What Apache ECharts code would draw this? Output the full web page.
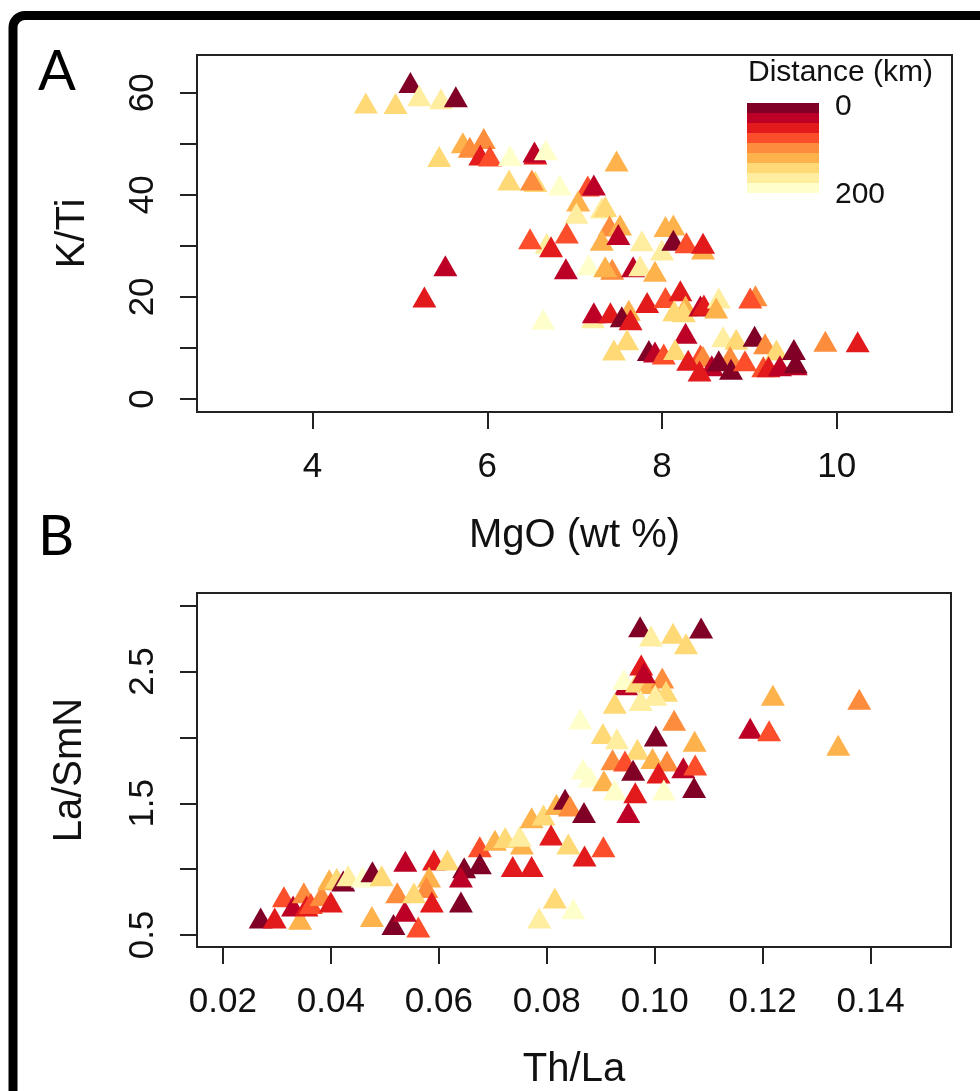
<!DOCTYPE html>
<html><head><meta charset="utf-8">
<script src="https://cdn.jsdelivr.net/npm/echarts@6/dist/echarts.min.js"></script>
<style>html,body{margin:0;padding:0;background:#fff}#c{width:980px;height:1091px}</style>
</head><body><div id="c"></div>
<script>
// Distance classes 1..9 correspond to the 9 legend bands from 0 km (1) to 200 km (9)
var palette = ['#800026','#BD0026','#E31A1C','#FC4E2A','#FD8D3C','#FEB24C','#FED976','#FFEDA0','#FFFFCC'];

// Panel A: MgO (wt %) vs K/Ti
var mgoA = [5.12,4.61,4.95,5.22,5.47,5.64,
  5.72,5.80,5.96,5.92,6.03,5.45,6.26,6.55,6.54,6.67,
  6.25,6.55,6.51,6.83,7.48,7.15,7.22,7.04,7.02,7.31,7.35,
  7.40,7.52,7.31,7.50,7.77,8.00,8.04,8.13,8.13,8.28,8.47,8.47,
  6.68,6.49,6.73,6.91,6.90,7.16,7.43,7.35,7.67,7.75,7.92,
  7.83,8.04,8.21,8.27,8.14,8.25,8.44,8.48,8.65,8.62,9.07,9.01,
  6.64,7.21,7.22,7.41,7.62,7.54,7.64,7.60,7.45,
  8.27,8.70,8.85,9.06,9.18,9.31,9.51,9.53,9.87,10.24,
  7.85,7.92,8.02,8.15,8.44,8.47,8.30,8.78,8.57,8.65,8.43,8.79,8.95,9.16,9.22,9.35,9.53,
  5.52,5.28];
var ktiA = [62.0,58.0,57.9,59.4,58.8,59.2,
  50.2,49.3,51.0,47.8,47.6,47.5,47.7,48.0,48.4,48.8,
  42.9,42.6,42.9,41.9,46.6,41.7,41.9,38.8,36.4,37.4,37.7,
  33.9,34.1,31.1,32.2,31.0,29.2,33.8,34.1,31.1,30.6,29.4,30.5,
  30.5,31.4,29.8,32.5,25.5,26.3,25.4,25.9,25.9,26.1,25.0,
  18.9,19.9,21.2,18.2,17.3,17.1,18.2,18.4,19.8,17.8,20.2,19.8,
  15.6,15.9,16.9,16.9,17.4,16.1,15.5,11.6,9.6,
  12.9,12.2,11.7,12.3,10.8,9.6,9.7,6.7,11.3,11.2,
  9.5,9.2,8.8,9.7,8.6,8.3,7.6,8.3,6.5,7.5,5.5,5.8,7.5,6.3,6.3,6.5,7.1,
  26.1,20.0];
var distClassA = [1,7,7,8,8,1,
  6,5,5,3,4,7,9,3,2,9,
  7,7,5,9,6,4,2,6,8,8,7,
  5,6,6,2,8,8,6,6,1,4,6,3,
  8,4,3,4,2,9,5,6,2,8,6,
  3,4,3,6,7,7,2,3,8,6,5,4,
  9,8,2,3,6,1,3,7,7,
  2,8,7,1,5,7,1,2,5,3,
  1,2,4,7,4,5,3,5,2,1,3,1,4,4,3,2,1,
  2,3];

// Panel B: Th/La vs La/SmN
var thlaB = [0.0270,0.0296,0.0313,0.0330,0.0343,0.0350,0.0355,0.0363,0.0383,0.0400,
  0.0397,0.0411,0.0423,0.0432,0.0459,0.0477,0.0494,0.0476,0.0516,0.0562,
  0.0523,0.0537,0.0538,0.0591,0.0616,0.0582,0.0577,0.0554,0.0587,0.0641,
  0.0647,0.0641,0.0676,0.0676,0.0704,0.0723,0.0737,0.0754,0.0772,0.0750,
  0.0772,0.0794,0.0808,0.0818,0.0815,0.0786,0.0849,
  0.0834,0.0843,0.0869,0.0951,0.0840,0.0870,0.0905,
  0.0862,0.0904,0.0930,0.1002,0.1036,0.1074,0.0968,0.0922,0.0945,0.0996,0.0960,0.1023,0.1007,0.1053,0.1075,0.0867,0.0880,0.0906,0.0926,0.0964,0.1017,0.1073,
  0.0947,0.0943,0.0967,0.0991,0.1014,0.0975,0.0980,0.1021,0.0926,0.0974,0.1001,
  0.0973,0.0993,0.1034,0.1058,0.1086,
  0.1219,0.1379,0.1177,0.1212,0.1340];
var lasmB = [0.63,0.63,0.79,0.72,0.62,0.82,0.72,0.74,0.80,0.75,
  0.92,0.93,0.91,0.95,0.94,0.98,0.95,0.64,0.58,0.56,
  0.82,0.68,1.06,1.07,1.07,0.94,0.86,0.82,0.75,0.75,
  1.01,0.94,1.17,1.04,1.22,1.24,1.02,1.19,1.02,1.25,
  1.39,1.41,1.26,1.49,0.78,0.63,0.70,
  1.53,1.48,1.43,1.43,1.19,1.10,1.17,
  2.14,2.03,1.99,2.01,2.13,1.97,1.91,1.83,1.82,1.84,1.75,1.82,1.73,1.77,1.79,1.76,1.70,1.67,1.60,1.58,1.60,1.62,
  2.40,2.44,2.42,2.41,2.45,2.55,2.49,2.35,2.26,2.28,2.32,
  2.84,2.77,2.79,2.71,2.83,
  2.32,2.29,2.07,2.05,1.94];
var distClassB = [1,3,4,2,6,5,3,4,5,3,
  6,7,1,8,9,1,7,6,1,4,
  5,2,2,3,7,6,5,7,3,1,
  1,2,4,1,6,7,3,6,3,8,
  6,7,3,6,7,8,9,
  1,5,1,2,7,3,4,
  9,7,8,1,5,6,7,5,4,6,1,5,3,2,4,9,9,6,9,3,9,1,
  2,9,7,6,5,3,2,7,7,8,8,
  1,8,7,7,1,
  6,5,2,4,6];

// Tick positions and labels
var ticksAx = [4,6,8,10];
var ticksAy = [0,10,20,30,40,50,60];
var labelsAy = [0,20,40,60];
var ticksBx = [0.02,0.04,0.06,0.08,0.10,0.12,0.14];
var ticksBy = [0.5,1.0,1.5,2.0,2.5,3.0];
var labelsBy = [0.5,1.5,2.5];
var legendLabels = ['0','200'];

var FONT = '"Liberation Sans", Arial, sans-serif';
var INK = '#111';
var chart = echarts.init(document.getElementById('c'), null, {renderer:'canvas'});

function xAx(grid, min, max, ticks, labels, name, gap, fmt) {
  return {
    gridIndex: grid, type: 'value', min: min, max: max,
    axisLine: {show: true, onZero: false, lineStyle: {color: '#222', width: 2}},
    axisTick: {show: true, length: 17, lineStyle: {color: '#222', width: 2}, customValues: ticks},
    axisLabel: {customValues: labels, fontSize: 35, margin: 38, color: INK, fontFamily: FONT, formatter: fmt},
    splitLine: {show: false},
    name: name, nameLocation: 'middle', nameGap: gap,
    nameTextStyle: {fontSize: 40, color: INK, fontFamily: FONT}
  };
}
function yAx(grid, min, max, ticks, labels, name, gap, fmt) {
  return {
    gridIndex: grid, type: 'value', min: min, max: max,
    axisLine: {show: true, onZero: false, lineStyle: {color: '#222', width: 2}},
    axisTick: {show: true, length: 17, lineStyle: {color: '#222', width: 2}, customValues: ticks},
    axisLabel: {customValues: labels, fontSize: 35, margin: 36, rotate: 90, color: INK, fontFamily: FONT, formatter: fmt},
    splitLine: {show: false},
    name: name, nameLocation: 'middle', nameGap: gap,
    nameTextStyle: {fontSize: 40, color: INK, fontFamily: FONT}
  };
}

var legendGraphics = palette.map(function (c, i) {
  return {type: 'rect', shape: {x: 747, y: 103 + i * 10, width: 72, height: 10}, style: {fill: c}, silent: true};
});

var option = {
  backgroundColor: '#fff',
  animation: false,
  grid: [
    {left: 197, top: 55, width: 755, height: 357, show: true, borderColor: '#222', borderWidth: 2, backgroundColor: 'transparent'},
    {left: 197, top: 593, width: 754, height: 355, show: true, borderColor: '#222', borderWidth: 2, backgroundColor: 'transparent'}
  ],
  xAxis: [
    xAx(0, 2.677, 11.32, ticksAx, ticksAx, 'MgO (wt %)', 104, function (v) { return String(v); }),
    xAx(1, 0.0152, 0.1549, ticksBx, ticksBx, 'Th/La', 103, function (v) { return v.toFixed(2); })
  ],
  yAxis: [
    yAx(0, -2.55, 67.38, ticksAy, labelsAy, 'K/Ti', 104, function (v) { return String(v); }),
    yAx(1, 0.409, 3.096, ticksBy, labelsBy, 'La/SmN', 107, function (v) { return v.toFixed(1); })
  ],
  visualMap: {
    type: 'piecewise', show: false, dimension: 2, seriesIndex: [0, 1],
    pieces: palette.map(function (c, i) { return {value: i + 1, color: c}; })
  },
  series: [
    {type: 'scatter', xAxisIndex: 0, yAxisIndex: 0, symbol: 'triangle', symbolSize: [24, 21],
     itemStyle: {opacity: 1}, silent: true,
     data: mgoA.map(function (x, i) { return [x, ktiA[i], distClassA[i]]; })},
    {type: 'scatter', xAxisIndex: 1, yAxisIndex: 1, symbol: 'triangle', symbolSize: [24, 21],
     itemStyle: {opacity: 1}, silent: true,
     data: thlaB.map(function (x, i) { return [x, lasmB[i], distClassB[i]]; })}
  ],
  graphic: legendGraphics.concat([
    {type: 'text', left: 748, top: 58, style: {text: 'Distance (km)', font: '30px ' + FONT, fill: INK}},
    {type: 'text', left: 835, top: 92, style: {text: legendLabels[0], font: '30px ' + FONT, fill: INK}},
    {type: 'text', left: 835, top: 180, style: {text: legendLabels[1], font: '30px ' + FONT, fill: INK}},
    {type: 'text', left: 38, top: 44, style: {text: 'A', font: '56px Lato, "Open Sans", sans-serif', fill: '#000'}},
    {type: 'text', left: 38, top: 509, style: {text: 'B', font: '56px Lato, "Open Sans", sans-serif', fill: '#000'}},
    {type: 'rect', shape: {x: 13, y: 15.5, width: 1100, height: 1200, r: 12}, style: {fill: 'none', stroke: '#000', lineWidth: 9}, silent: true}
  ])
};
chart.setOption(option);
</script></body></html>
